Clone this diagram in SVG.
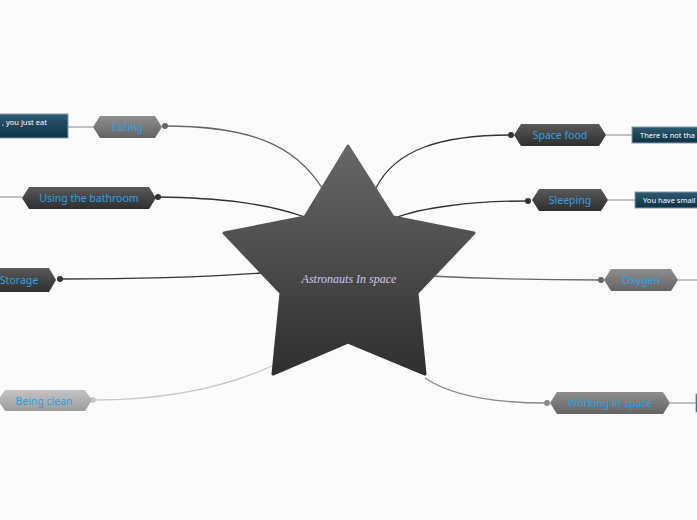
<svg xmlns="http://www.w3.org/2000/svg" width="697" height="520" viewBox="0 0 697 520">
<defs>
<linearGradient id="gStar" x1="0" y1="0" x2="0" y2="1"><stop offset="0" stop-color="#676767"/><stop offset="1" stop-color="#2f2f2f"/></linearGradient>
<linearGradient id="gDark" x1="0" y1="0" x2="0" y2="1"><stop offset="0" stop-color="#5a5a5a"/><stop offset="1" stop-color="#2e2e2e"/></linearGradient>
<linearGradient id="gMid" x1="0" y1="0" x2="0" y2="1"><stop offset="0" stop-color="#8e8e8e"/><stop offset="1" stop-color="#646464"/></linearGradient>
<linearGradient id="gLight" x1="0" y1="0" x2="0" y2="1"><stop offset="0" stop-color="#c4c4c4"/><stop offset="1" stop-color="#9c9c9c"/></linearGradient>
<linearGradient id="gBlue" x1="0" y1="0" x2="0" y2="1"><stop offset="0" stop-color="#2e5a73"/><stop offset="1" stop-color="#0c3146"/></linearGradient>
</defs>
<style>
.lbl{font-family:"Noto Sans","DejaVu Sans",sans-serif;font-size:10.5px;fill:#2ea0e0;text-anchor:middle;dominant-baseline:central}
.note{font-family:"Noto Sans","DejaVu Sans",sans-serif;font-size:7.5px;fill:#ffffff;dominant-baseline:central}
.box{fill:url(#gBlue);stroke:#8a9aa4;stroke-width:1}
.c{fill:none;stroke-width:1.3}
</style>
<rect width="697" height="520" fill="#fbfbfb"/>
<g id="connectors">
<path class="c" stroke="#666" d="M165,126 C250,126 295,145 322,188"/>
<path class="c" stroke="#333" d="M158,197 C220,198 265,203 305,217"/>
<path class="c" stroke="#333" d="M60,279 C150,279 220,276 262,273"/>
<path class="c" stroke="#c8c8c8" d="M93,400 C170,400 230,385 272,366"/>
<path class="c" stroke="#333" d="M511,135 C440,135 395,150 376,188"/>
<path class="c" stroke="#333" d="M528,201 C470,201 420,208 395,218"/>
<path class="c" stroke="#666" d="M601,280 C530,280 470,278 430,276"/>
<path class="c" stroke="#888" d="M547,403 C490,403 450,395 425,378"/>
<g stroke="#888" stroke-width="1">
<line x1="68" y1="127" x2="93" y2="127"/>
<line x1="0" y1="197" x2="22" y2="197"/>
<line x1="606" y1="135" x2="632" y2="135"/>
<line x1="608" y1="200" x2="635" y2="200"/>
<line x1="678" y1="280" x2="697" y2="280"/>
<line x1="670" y1="403" x2="696" y2="403"/>
</g>
<g>
<circle cx="165" cy="126" r="3" fill="#666"/>
<circle cx="158" cy="197" r="3" fill="#333"/>
<circle cx="60" cy="279" r="3" fill="#333"/>
<circle cx="93" cy="400" r="3" fill="#c8c8c8"/>
<circle cx="511" cy="135" r="3" fill="#333"/>
<circle cx="528" cy="201" r="3" fill="#333"/>
<circle cx="601" cy="280" r="3" fill="#666"/>
<circle cx="547" cy="403" r="3" fill="#888"/>
</g>
</g>
<g id="center">
<path d="M348,146 L393,217 L474,233 L417,293 L425,374 L348,342 L273,374 L281,293 L224,233 L305,217 Z" fill="url(#gStar)" stroke="url(#gStar)" stroke-width="3" stroke-linejoin="round"/>
<text x="349" y="283" font-family="'Liberation Serif',serif" font-style="italic" font-size="12" fill="#cfc6ee" text-anchor="middle">Astronauts In space</text>
</g>
<g id="eating">
<path d="M93,127 L100,116 L155,116 L162,127 L155,138 L100,138 Z" fill="url(#gMid)"/>
<text class="lbl" x="127.5" y="127">Eating</text>
</g>
<g id="eating-note">
<rect class="box" x="-5" y="114" width="73" height="24"/>
<text class="note" x="2" y="122" font-size="8">, you just eat</text>
</g>
<g id="bathroom">
<path d="M22,198 L29,187 L149,187 L156,198 L149,209 L29,209 Z" fill="url(#gDark)"/>
<text class="lbl" x="89" y="198">Using the bathroom</text>
</g>
<g id="storage">
<path d="M-10,280 L-3,268 L49,268 L56,280 L49,292 L-3,292 Z" fill="url(#gDark)"/>
<text class="lbl" x="19" y="280">Storage</text>
</g>
<g id="clean">
<path d="M-2,400 L5,390 L85,390 L92,400 L85,411 L5,411 Z" fill="url(#gLight)"/>
<text class="lbl" x="44" y="400.5">Being clean</text>
</g>
<g id="spacefood">
<path d="M514,135 L521,124 L599,124 L606,135 L599,146 L521,146 Z" fill="url(#gDark)"/>
<text class="lbl" x="560" y="135">Space food</text>
</g>
<g id="spacefood-note">
<rect class="box" x="632" y="127" width="80" height="16"/>
<text class="note" x="640" y="135">There is not tha</text>
</g>
<g id="sleeping">
<path d="M532,200 L539,189 L601,189 L608,200 L601,211 L539,211 Z" fill="url(#gDark)"/>
<text class="lbl" x="570" y="200">Sleeping</text>
</g>
<g id="sleeping-note">
<rect class="box" x="635" y="192" width="80" height="16"/>
<text class="note" x="643" y="200">You have small</text>
</g>
<g id="oxygen">
<path d="M604,280 L611,269 L671,269 L678,280 L671,291 L611,291 Z" fill="url(#gMid)"/>
<text class="lbl" x="641" y="280">Oxygen</text>
</g>
<g id="working">
<path d="M550,403 L557,392 L663,392 L670,403 L663,414 L557,414 Z" fill="url(#gMid)"/>
<text class="lbl" x="610" y="403">Working in space</text>
</g>
<g id="working-note">
<rect class="box" x="696" y="394" width="20" height="18"/>
</g>
</svg>
